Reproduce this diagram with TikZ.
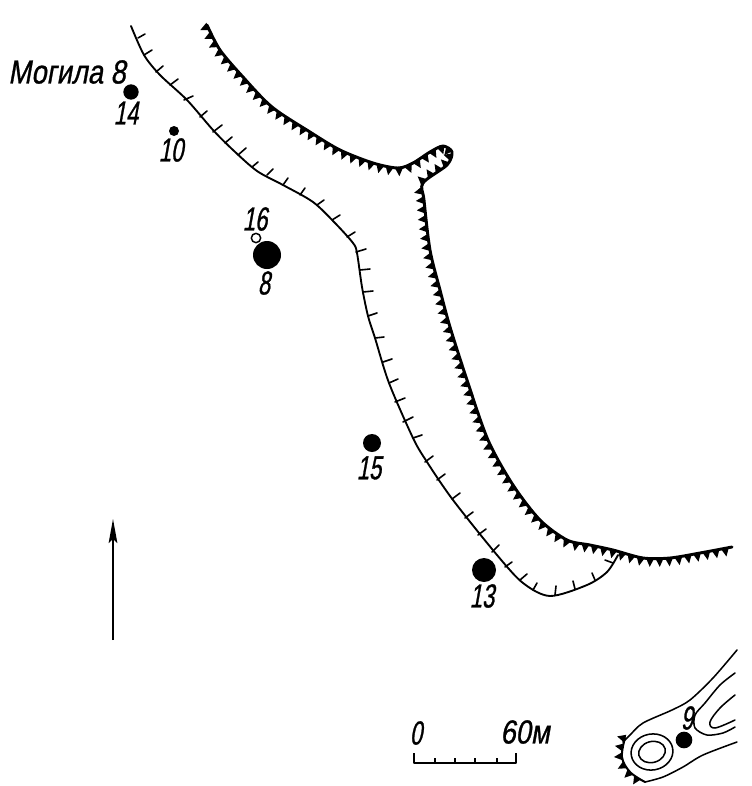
\documentclass[tikz,border=0pt]{standalone}
\usepackage{fontspec}
\usetikzlibrary{decorations.markings,arrows.meta}
\newfontfamily\labfont[FakeStretch=0.66,FakeSlant=0.18,FakeBold=0.8]{Liberation Sans}
\newfontfamily\widefont[FakeStretch=0.82,FakeSlant=0.18,FakeBold=0.8]{Liberation Sans}
\tikzset{
  grave/.style={circle,fill=black,inner sep=0pt,minimum size=#1},
  opengrave/.style={circle,draw=black,fill=white,line width=1.1pt,inner sep=0pt,minimum size=#1},
  lab/.style={inner sep=0pt,font=\labfont\fontsize{25}{25}\selectfont},
  widelab/.style={inner sep=0pt,font=\widefont\fontsize{25}{25}\selectfont},
  thinbank/.style={line width=1.4pt,line cap=round,line join=round},
  tickmark/.style={line width=1.2pt,line cap=round},
  contour/.style={line width=1.15pt,line cap=round},
  toothed/.style={line width=2.2pt,line cap=round,line join=round,
    postaction={decorate,decoration={markings,
      mark=between positions 0.002 and 0.999 step 7.1pt with {
        \fill[black] (-3.1pt,0.3pt)--(3.1pt,0.3pt)--(0pt,-6.2pt)--cycle;}}}},
  toothedsmall/.style={line width=1.5pt,line cap=round,line join=round,
    postaction={decorate,decoration={markings,
      mark=between positions 0.01 and 0.99 step 6.8pt with {
        \fill[black] (-3pt,0.3pt)--(3pt,0.3pt)--(0pt,-6pt)--cycle;}}}},
}
\begin{document}
\begin{tikzpicture}[x=0.75pt,y=-0.75pt]
\useasboundingbox (0,0) rectangle (751,786);
\fill[white] (0,0) rectangle (751,786);
% left (hachured) edge
\draw[thinbank] plot[smooth,tension=0.5] coordinates {(131,26)(144,55)(160,75)(187,100)(213,130)(233,150)(257,171)(283,185)(313,202)(335,223)(353,243)(357,253)(362,287)(368,316)(375,338)(389,383)(413,438)(427,462)(453,500)(497,555)(523,583)(550,596)(587,585)(607,572)(618,555)};
\foreach \ax/\ay/\bx/\by in {138/38/145/34,144/55/152/50,156/72/163/66,170/85/178/79,184/100/193/96,200/117/207/111,213/132/222/125,225/143/232/137,238/155/246/148,252/167/258/162,267/175/273/169,283/185/288/178,300/195/305/188,317/205/324/200,332/220/340/215,347/237/355/232,356/252/366/249,360/270/370/269,363/292/373/291,368/316/377/313,375/338/384/337,383/362/392/359,389/383/398/379,395/402/405/398,403/422/413/417,413/438/422/435,425/462/433/456,437/480/445/474,452/499/460/493,465/518/473/512,478/535/486/529,492/552/499/545,505/567/512/562,520/580/527/574,533/590/537/583,555/595/556/586,575/589/573/581,595/580/592/573,613/563/605/560}
  \draw[tickmark] (\ax,\ay) -- (\bx,\by);
% toothed edge with spur
\draw[toothed] plot[smooth,tension=0.5] coordinates {(207,25)(220,50)(243,77)(272,107)(310,132)(340,150)(373,163)(398,168)(413,163)(430,152)(443,146)(452,152)(447,165)(423,183)(424,200)(430,250)(440,290)(450,327)(467,380)(488,440)(513,485)(540,520)(567,540)(590,545)(613,550)(643,558)(670,558)(700,553)(732,547)};
% graves and labels
\node[grave=11.5pt] (g14) at (131,92) {};
\node[lab] (l14) at (126,113) {14};
\node[grave=7.5pt] (g10) at (174,131) {};
\node[lab] (l10) at (171,150) {10};
\node[grave=21pt] (g8) at (267,255) {};
\node[opengrave=7pt] (g16) at (256,238) {};
\node[lab] (l16) at (255,219) {16};
\node[lab] (l8) at (264,283) {8};
\node[grave=13.5pt] (g15) at (372,443) {};
\node[lab] (l15) at (369,468) {15};
\node[grave=18pt] (g13) at (484,570) {};
\node[lab] (l13) at (482,596) {13};
\node[widelab] (title) at (67,72) {Могила 8};
% north arrow
\coordinate (ns) at (113,640);
\coordinate (nn) at (113,519);
\draw[line width=1.3pt,-{Stealth[length=18pt,width=6.5pt,inset=3pt]}] (ns) -- (nn);
% scale bar
\node[lab] (s0) at (416,733) {0};
\node[widelab] (s60) at (525,732) {60м};
\draw[line width=1.5pt,line join=round] (414,753) -- (414,763) -- (516,763) -- (516,753);
\foreach \tx in {435,455,475,497}
  \draw[line width=1pt] (\tx,758) -- (\tx,763);
% inset
\draw[contour] plot[smooth,tension=0.5] coordinates {(737,650)(713,678)(690,700)(672,710)(643,723)(630,735)(623,742)};
\draw[toothedsmall] plot[smooth,tension=0.6] coordinates {(625,738)(622,757)(630,772)(645,782)};
\draw[contour] plot[smooth,tension=0.5] coordinates {(645,782)(663,777)(683,767)(703,755)(737,742)};
\draw[contour] (652,752) ellipse [x radius=21,y radius=18,rotate=10];
\draw[contour] (652,752) ellipse [x radius=13.5,y radius=10.5,rotate=15];
\draw[contour] plot[smooth,tension=0.5] coordinates {(735,673)(720,685)(705,703)(695,715)(695,728)(707,735)(723,733)(735,727)};
\draw[contour] plot[smooth,tension=0.6] coordinates {(735,695)(720,708)(710,722)(715,728)(735,720)};
\node[grave=12.5pt] (g9) at (684,740) {};
\node[lab] (l9) at (687,718) {9};
\end{tikzpicture}
\end{document}
